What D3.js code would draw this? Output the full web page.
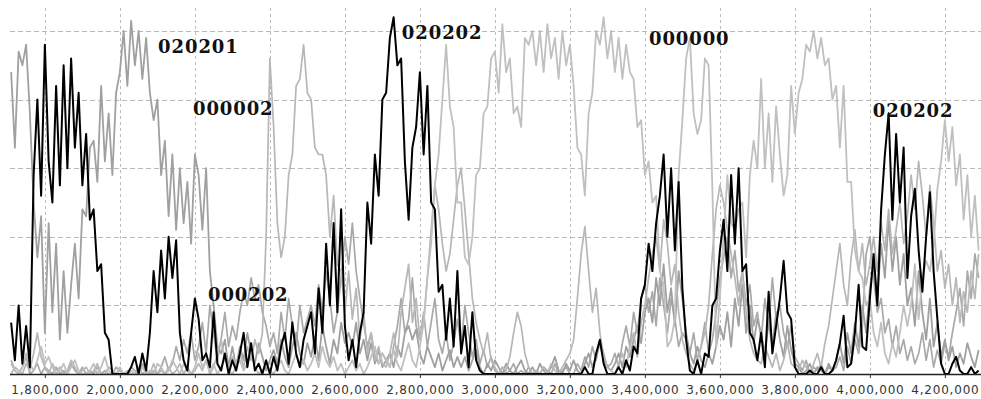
<!DOCTYPE html>
<html>
<head>
<meta charset="utf-8">
<script src="https://cdn.jsdelivr.net/npm/d3@7/dist/d3.min.js"></script>
<style>
  html, body { margin: 0; padding: 0; background: #fff; }
  svg { display: block; }
</style>
</head>
<body>
<svg id="chart" width="981" height="399"></svg>
<script>
// Genomic positions (bp), one sample every 10 kb
const positions = d3.range(1710000, 4291000, 10000);

// Tick positions along the chromosome
const tickValues = [1800000, 2000000, 2200000, 2400000, 2600000, 2800000, 3000000,
                    3200000, 3400000, 3600000, 3800000, 4000000, 4200000];
const gridLevels = [20, 40, 60, 80, 100];

// Haplotype support (percent) per window
const hap020202 = [
  15,4,20,3,14,2,58,80,52,96,
  62,50,84,55,90,60,92,66,82,55,
  70,45,48,30,32,12,10,0,0,0,
  0,0,2,5,0,6,1,12,30,18,
  36,22,40,28,39,12,4,1,12,22,
  16,4,6,2,18,3,1,6,0,4,
  1,6,12,2,9,1,3,0,4,0,
  5,1,8,12,3,15,6,2,10,14,
  18,6,25,12,38,20,44,18,48,14,
  4,10,2,12,18,50,38,64,52,80,
  82,98,104,90,92,62,45,66,72,88,
  64,84,50,48,24,26,10,22,8,30,
  6,14,2,18,4,1,0,0,0,0,
  0,0,0,0,0,0,0,0,0,0,
  0,0,0,0,0,0,0,0,0,0,
  0,0,0,2,0,0,6,10,3,0,
  0,0,2,0,4,1,8,6,22,26,
  38,30,44,52,64,40,60,36,56,25,
  10,1,0,4,0,6,5,20,22,36,
  45,30,58,38,60,30,32,12,10,4,
  12,2,24,6,14,22,33,18,16,2,
  0,0,0,1,0,0,2,0,0,1,
  4,9,17,2,3,12,26,8,7,22,
  35,20,48,64,76,45,70,50,66,28,
  46,54,36,24,40,53,30,16,3,0,
  0,3,5,1,0,0,2,0,1
];

const hap000000 = [
  3,1,0,2,6,3,1,4,8,3,
  5,2,0,1,3,0,2,4,1,0,
  0,1,3,0,2,5,1,0,0,2,
  0,0,1,0,0,2,0,1,0,3,
  2,0,1,4,2,0,3,1,0,2,
  6,2,4,1,3,0,2,5,1,0,
  2,4,1,3,6,2,0,1,3,1,
  0,2,4,1,0,3,6,2,4,1,
  3,6,2,8,4,2,5,1,3,0,
  2,4,1,3,0,2,5,8,3,6,
  4,2,7,3,1,5,9,4,2,8,
  15,28,38,55,64,80,96,78,72,50,
  50,34,32,40,58,60,76,78,92,94,
  82,102,88,92,76,78,72,98,96,100,
  90,100,88,102,92,98,86,100,90,96,
  84,66,64,52,76,82,100,96,104,92,
  100,88,98,86,96,88,86,72,74,58,
  62,50,52,30,26,8,10,16,58,74,
  92,98,76,70,74,92,90,54,8,22,
  40,58,44,42,48,50,34,58,68,60,
  86,60,76,56,78,64,52,58,84,70,
  82,86,96,94,100,92,98,90,92,80,
  84,66,84,56,56,36,30,28,20,22,
  12,8,15,6,3,9,5,12,20,14,
  20,32,16,28,33,30,38,54,62,74,
  62,72,55,64,45,58,40,52,36
];

const hap020201 = [
  88,66,94,90,96,76,50,34,46,12,
  44,18,38,10,30,12,26,38,22,48,
  46,66,68,56,84,62,76,58,82,88,
  100,84,103,90,100,86,98,82,74,80,
  58,68,46,64,42,60,44,56,38,64,
  58,42,60,30,20,8,6,10,2,8,
  2,8,4,12,6,3,9,5,1,4,
  7,3,10,5,2,8,12,6,3,9,
  5,11,4,14,8,3,10,6,15,9,
  12,8,15,6,10,4,9,3,7,2,
  4,6,2,8,5,12,14,10,13,6,
  3,8,5,2,6,1,4,7,2,5,
  2,5,1,4,7,2,0,3,1,4,
  2,0,3,1,0,2,4,1,0,2,
  0,3,1,0,2,5,1,0,3,1,
  4,1,0,3,6,2,5,9,4,2,
  1,3,6,2,8,5,10,14,9,18,
  22,15,28,20,32,18,25,14,30,22,
  12,6,3,8,4,2,6,3,8,14,
  10,18,8,22,14,26,12,20,9,16,
  12,6,15,8,18,10,5,14,7,3,
  2,0,1,3,0,2,1,0,3,1,
  4,9,3,12,6,15,8,20,12,25,
  32,22,38,28,45,30,40,26,35,20,
  25,14,30,18,10,22,8,15,5,10,
  4,8,2,6,3,9,5,2,7
];

const hap000002 = [
  0,2,1,0,3,1,6,12,5,2,
  0,3,1,2,0,1,4,2,0,1,
  2,0,1,3,0,0,2,1,0,1,
  0,1,0,0,2,0,1,0,3,0,
  1,0,2,0,1,3,0,2,0,1,
  3,1,4,0,2,6,10,4,2,5,
  3,6,2,8,4,10,6,12,40,92,
  72,44,34,40,58,64,84,86,96,82,
  80,66,64,64,58,40,52,32,30,18,
  30,16,25,10,18,6,12,4,8,3,
  2,6,12,5,18,25,32,15,22,10,
  15,28,42,55,48,38,30,35,45,55,
  60,48,35,22,15,10,6,12,4,2,
  0,2,1,5,12,18,14,6,2,0,
  1,0,2,0,3,1,0,2,4,6,
  10,22,35,43,30,18,25,12,5,2,
  1,0,3,6,2,8,12,5,15,20,
  28,35,40,30,45,38,26,32,18,10,
  6,3,1,4,8,12,20,35,48,55,
  50,42,35,28,20,30,18,10,6,4,
  3,8,5,2,6,1,4,9,3,2,
  1,4,2,0,3,6,2,9,14,22,
  30,38,26,20,34,42,30,38,26,32,
  40,30,44,36,48,35,42,50,38,46,
  58,48,62,52,40,55,44,30,36,25,
  32,20,28,15,24,18,30,22,35
];

const hap000202 = [
  4,1,0,2,5,0,1,3,0,2,
  1,0,2,0,1,0,3,1,0,2,
  0,1,0,2,0,1,0,0,2,1,
  0,0,2,1,0,3,1,0,1,0,
  2,5,1,3,8,4,10,6,12,4,
  8,15,6,20,12,4,10,18,8,14,
  10,18,24,20,28,22,26,18,14,8,
  12,6,18,10,22,14,8,20,12,16,
  20,14,26,18,30,22,12,18,28,40,
  32,44,30,22,15,8,12,5,3,6,
  4,2,8,14,22,12,16,28,14,10,
  18,8,15,22,10,6,12,4,9,16,
  8,20,12,5,10,3,7,2,5,1,
  0,2,0,1,3,0,1,0,2,0,
  1,0,2,1,0,3,0,1,2,0,
  0,3,1,5,2,8,4,10,6,2,
  3,6,2,9,14,8,18,12,22,26,
  18,24,14,28,20,12,22,16,8,12,
  10,6,12,4,8,15,6,10,18,28,
  34,40,28,36,24,30,20,26,14,18,
  10,22,14,28,16,20,12,8,14,5,
  3,1,4,0,2,1,3,0,2,1,
  2,5,1,8,3,10,6,14,35,40,
  28,18,22,12,16,8,14,6,10,4,
  8,3,6,12,4,10,2,7,3,9,
  5,12,18,25,14,30,22,35,28
];

// Haplotype names written beside their peaks
const labelText  = ["020201", "000002", "020202", "000000", "020202", "000202"];
const labelPos   = [2102000, 2195000, 2752000, 3411000, 4008000, 2235000];
const labelLevel = [93.6, 75.5, 97.7, 95.9, 74.9, 21.3];

const svg = d3.select("#chart");
const plotLeft = 10, plotRight = 980, plotTop = 8, plotBottom = 374;

const x = d3.scaleLinear().domain([1707000, 4293667]).range([plotLeft, plotRight]);
const y = d3.scaleLinear().domain([0, 100]).range([plotBottom, 31]);

// Grid
svg.append("g").selectAll("line").data(gridLevels).join("line")
  .attr("x1", plotLeft).attr("x2", 981)
  .attr("y1", d => Math.round(y(d)) + 0.5).attr("y2", d => Math.round(y(d)) + 0.5)
  .attr("stroke", "#b8b8b8").attr("stroke-width", 1)
  .attr("stroke-dasharray", "5,3");

svg.append("g").selectAll("line").data(tickValues).join("line")
  .attr("x1", d => Math.round(x(d)) + 0.5).attr("x2", d => Math.round(x(d)) + 0.5)
  .attr("y1", plotTop).attr("y2", plotBottom)
  .attr("stroke", "#bdbdbd").attr("stroke-width", 1)
  .attr("stroke-dasharray", "3,3");

// Series, light layers beneath and the black haplotype on top
const series = [
  { values: hap000202, color: "#a9a9a9", width: 1.7 },
  { values: hap020201, color: "#a0a0a0", width: 1.8 },
  { values: hap000002, color: "#b7b7b7", width: 1.7 },
  { values: hap000000, color: "#c0c0c0", width: 1.8 },
  { values: hap020202, color: "#000000", width: 2 }
];

const line = d3.line()
  .x((d, i) => x(positions[i]))
  .y(d => y(d))
  .curve(d3.curveLinear);

svg.append("g").selectAll("path").data(series).join("path")
  .attr("d", s => line(s.values))
  .attr("fill", "none")
  .attr("stroke", s => s.color)
  .attr("stroke-width", s => s.width)
  .attr("stroke-linejoin", "round");

// Bottom axis
const axis = svg.append("g")
  .attr("transform", `translate(0,${plotBottom})`)
  .call(d3.axisBottom(x).tickValues(tickValues).tickSize(4).tickSizeOuter(0)
        .tickFormat(d3.format(",")));
axis.select(".domain").attr("d", `M${plotLeft},0.5H981`).attr("stroke", "#222").attr("stroke-width", 1.3);
axis.selectAll(".tick line").attr("stroke", "#333");
axis.selectAll(".tick text")
  .attr("y", 11)
  .attr("fill", "#333")
  .style("font-family", "'DejaVu Sans', Verdana, sans-serif")
  .style("font-size", "12px")
  .style("letter-spacing", "0.8px");

// Haplotype labels
svg.append("g").selectAll("text").data(labelText).join("text")
  .attr("x", (d, i) => x(labelPos[i]))
  .attr("y", (d, i) => y(labelLevel[i]))
  .text(d => d)
  .attr("fill", "#111")
  .style("font-family", "'DejaVu Serif', serif")
  .style("font-weight", "bold")
  .style("font-size", "18px")
  .style("letter-spacing", "0.9px");
</script>
</body>
</html>
